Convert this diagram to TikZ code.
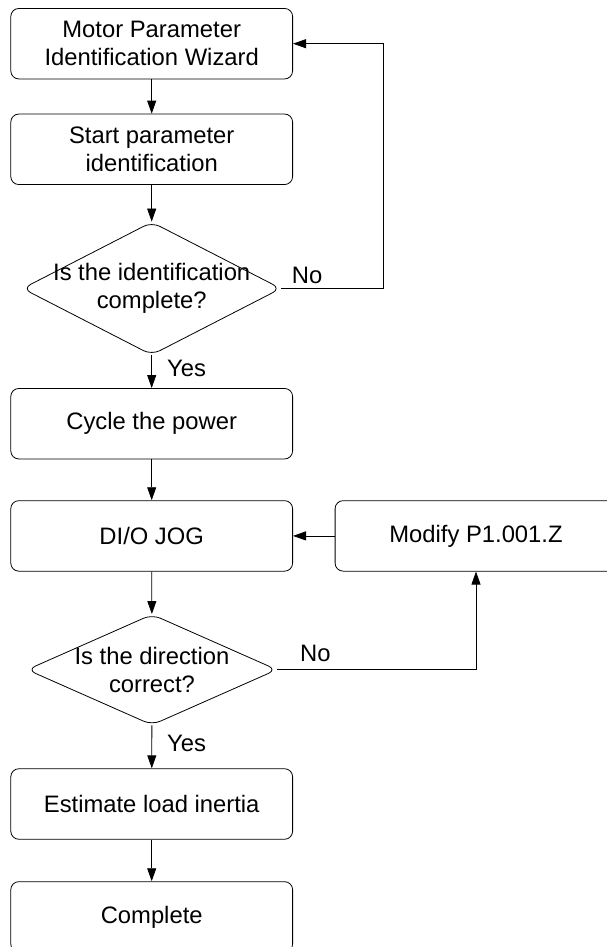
\documentclass[tikz,border=0pt]{standalone}
\usepackage{fontspec}
\setmainfont{Liberation Sans}
\usepackage{tikz}
\usetikzlibrary{arrows.meta,positioning,calc,shapes.geometric}

\begin{document}
\begin{tikzpicture}[
    x=1pt, y=-1pt,
    stepbox/.style={
      draw,
      line width=0.8pt,
      minimum width=281.8pt,
      minimum height=70.5pt,
      rounded corners=8pt,
      inner sep=0pt,
      font=\fontsize{23.8}{28.3}\selectfont,
      align=center
    },
    decision/.style={
      draw,
      diamond,
      line width=0.8pt,
      inner sep=0pt,
      rounded corners=9pt
    },
    qtext/.style={
      font=\fontsize{23.8}{28.3}\selectfont,
      align=center,
      inner sep=0pt
    },
    lbl/.style={
      font=\fontsize{23.8}{28.3}\selectfont,
      anchor=west,
      inner sep=0pt
    },
    arr/.style={
      -{Triangle[length=13pt,width=9pt]},
      line width=0.8pt
    }
  ]
  \useasboundingbox (0,0) rectangle (606,947);

  % Main column
  \node[stepbox] (wiz) at (151.7,43.7) {Motor Parameter\\Identification Wizard};
  \node[stepbox] (start) at (151.7,149.3) {Start parameter\\identification};
  \node[decision, minimum width=258.6pt, minimum height=133pt] (q1) at (151.7,288.5) {};
  \node[qtext] (q1txt) at (q1) {Is the identification\\complete?};
  \node[stepbox] (cycle) at (151.7,423.7) {Cycle the power};
  \node[stepbox] (jog) at (151.7,535.9) {DI/O JOG};
  \node[decision, minimum width=250pt, minimum height=110.7pt] (q2) at (152,669.7) {};
  \node[qtext] (q2txt) at (q2) {Is the direction\\correct?};
  \node[stepbox] (inertia) at (151.7,804) {Estimate load inertia};
  \node[stepbox] (done) at (151.7,916.9) {Complete};

  % Side box
  \node[stepbox] (modify) at (476,535.9) {Modify P1.001.Z};

  % Flow
  \draw[arr] (wiz) -- (start);
  \draw[arr] (start) -- (q1);
  \draw[arr] (q1) -- (cycle);
  \draw[arr] (cycle) -- (jog);
  \draw[arr] (jog) -- (q2);
  \draw[arr] (q2) -- (inertia);
  \draw[arr] (inertia) -- (done);

  % Loops
  \draw[arr] (q1.east) -| ([xshift=90.1pt]wiz.east) -- (wiz.east);
  \draw[arr] (q2.east) -| (modify.south);
  \draw[arr] (modify) -- (jog);

  % Branch labels
  \node[lbl] (no1) at (291.7,275) {No};
  \node[lbl] (yes1) at (167,368) {Yes};
  \node[lbl] (no2) at (300,653) {No};
  \node[lbl] (yes2) at (167,743) {Yes};

\end{tikzpicture}
\end{document}
